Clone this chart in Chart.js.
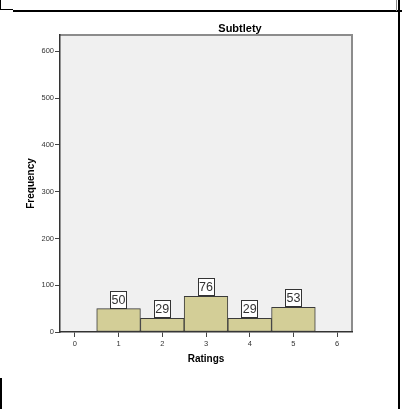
<!DOCTYPE html>
<html>
<head>
<meta charset="utf-8">
<script src="https://cdn.jsdelivr.net/npm/chart.js@4"></script>
<style>
  html, body { margin: 0; padding: 0; background: #fff; }
  #wrap { position: relative; width: 402px; height: 409px; overflow: hidden; }
  #wrap canvas { position: absolute; left: 0; top: 0; }
  .edge { position: absolute; background: #000; }
</style>
</head>
<body>
<div id="wrap">
  <canvas id="histChart" width="402" height="409"></canvas>
  <!-- bits of the surrounding output frame -->
  <div class="edge" style="left:0;top:0;width:1px;height:10px"></div>
  <div class="edge" style="left:0;top:9px;width:13px;height:1px"></div>
  <div class="edge" style="left:13px;top:10px;width:389px;height:2px"></div>
  <div class="edge" style="left:396px;top:0;width:1px;height:11px;background:#888"></div>
  <div class="edge" style="left:398px;top:0;width:2px;height:409px"></div>
  <div class="edge" style="left:0;top:378px;width:2px;height:31px"></div>
</div>
<script>
// Histogram data
const ratings = [1, 2, 3, 4, 5];
const frequencies = [50, 29, 76, 29, 53];
const xTicks = [0, 1, 2, 3, 4, 5, 6];
const yTicks = [0, 100, 200, 300, 400, 500, 600];

const FONT = '"Liberation Sans", Arial, sans-serif';

// grey plot panel behind the bars
const plotPanel = {
  id: 'plotPanel',
  beforeDraw(chart) {
    const { ctx, chartArea: a } = chart;
    ctx.save();
    ctx.fillStyle = '#f0f0f0';
    ctx.fillRect(a.left, a.top, a.right - a.left, a.bottom - a.top);
    ctx.strokeStyle = '#8c8c8c';
    ctx.lineWidth = 2;
    ctx.beginPath();
    ctx.moveTo(a.left, a.top);
    ctx.lineTo(a.right, a.top);
    ctx.lineTo(a.right, a.bottom);
    ctx.stroke();
    ctx.restore();
  },
  afterDraw(chart) {
    const ctx = chart.ctx;
    ctx.save();
    ctx.font = 'bold 11px ' + FONT;
    ctx.fillStyle = '#000';
    ctx.textAlign = 'center';
    ctx.textBaseline = 'middle';
    ctx.fillText('Subtlety', 240, 29);
    ctx.restore();
  }
};

// value boxes on top of each bar
const valueBoxes = {
  id: 'valueBoxes',
  afterDatasetsDraw(chart) {
    const ctx = chart.ctx;
    const meta = chart.getDatasetMeta(0);
    ctx.save();
    ctx.font = '12.5px ' + FONT;
    meta.data.forEach((bar, i) => {
      const txt = String(frequencies[i]);
      const w = Math.round(ctx.measureText(txt).width) + 3, h = 18;
      const x = Math.round(bar.x - w / 2), y = Math.round(bar.y - h);
      ctx.fillStyle = '#fff';
      ctx.fillRect(x, y, w, h);
      ctx.strokeStyle = '#333';
      ctx.lineWidth = 1;
      ctx.strokeRect(x + 0.5, y + 0.5, w - 1, h - 1);
      ctx.fillStyle = '#333';
      ctx.textAlign = 'center';
      ctx.textBaseline = 'middle';
      ctx.fillText(txt, bar.x, y + h / 2 + 1);
    });
    ctx.restore();
  }
};

const ctx = document.getElementById('histChart').getContext('2d');
new Chart(ctx, {
  type: 'bar',
  data: {
    datasets: [{
      label: 'Subtlety',
      data: ratings.map((r, i) => ({ x: r, y: frequencies[i] })),
      backgroundColor: '#d3ce97',
      borderColor: '#3a3a3a',
      borderWidth: 1,
      borderSkipped: false,
      barPercentage: 1,
      categoryPercentage: 1
    }]
  },
  options: {
    responsive: false,
    animation: false,
    layout: { padding: { left: 21, top: 35, right: 50, bottom: 40 } },
    plugins: {
      legend: { display: false },
      tooltip: { enabled: false }
    },
    scales: {
      x: {
        type: 'linear',
        offset: false,
        min: -0.34,
        max: 6.34,
        afterBuildTicks: s => { s.ticks = xTicks.map(v => ({ value: v })); },
        afterFit: s => { s.height = 37; },
        grid: { offset: false, drawOnChartArea: false, drawTicks: true, tickLength: 5, color: '#444' },
        border: { display: true, color: '#333', width: 1.5 },
        ticks: { color: '#333', padding: 2, font: { size: 7.5, family: FONT } },
        title: { display: true, text: 'Ratings', color: '#000', font: { size: 10, weight: 'bold', family: FONT } }
      },
      y: {
        min: 0,
        max: 635,
        afterBuildTicks: s => { s.ticks = yTicks.map(v => ({ value: v })); },
        afterFit: s => { s.width = 39; },
        grid: { drawOnChartArea: false, drawTicks: true, tickLength: 5, color: '#444' },
        border: { display: true, color: '#333', width: 1.5 },
        ticks: { color: '#333', padding: 1, font: { size: 7.5, family: FONT } },
        title: { display: true, text: 'Frequency', color: '#000', font: { size: 10, weight: 'bold', family: FONT } }
      }
    }
  },
  plugins: [plotPanel, valueBoxes]
});
</script>
</body>
</html>
